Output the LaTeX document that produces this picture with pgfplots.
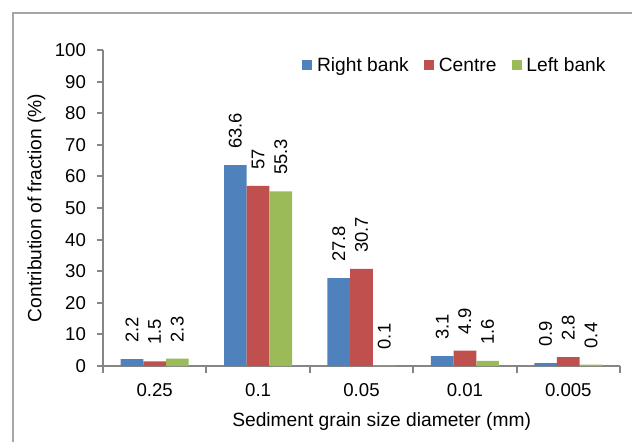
\documentclass[border=0pt]{standalone}
\usepackage{pgfplots}
\pgfplotsset{compat=1.18}
\usepackage{fontspec}
\setmainfont{Liberation Sans}
\definecolor{rbank}{HTML}{4F81BD}
\definecolor{centre}{HTML}{C0504D}
\definecolor{lbank}{HTML}{9BBB59}
\definecolor{axgray}{HTML}{868686}
\definecolor{framegray}{HTML}{A6A6A6}
\pgfplotsset{sqlegend/.style={legend image code/.code={\fill[##1] (0pt,-2.5pt) rectangle (5pt,2.5pt);}}}

\begin{document}
\begin{tikzpicture}
\useasboundingbox (-51.5pt,-37.5pt) rectangle (264.5pt,183pt);
\draw[framegray, line width=1pt] (-45pt,-45pt) -- (-45pt,176.5pt) -- (275pt,176.5pt);
\begin{axis}[
  at={(0pt,0pt)}, anchor=south west,
  scale only axis, width=258.5pt, height=158pt,
  ybar=0pt, bar width=11.35pt,
  xmin=-0.5, xmax=4.5, ymin=0, ymax=100,
  xtick={0,...,4},
  xticklabels={0.25,0.1,0.05,0.01,0.005},
  minor xtick={-0.5,0.5,...,4.5},
  ytick={0,10,...,100},
  axis x line*=bottom, axis y line*=left,
  axis line style={axgray, line width=1pt},
  tick align=outside,
  major tick length=3pt, minor tick length=3.5pt,
  tick style={color=axgray, line width=1pt},
  major x tick style={draw=none},
  /pgf/number format/assume math mode=true,
  tick label style={font=\fontsize{9.3}{11}\selectfont},
  yticklabel style={xshift=-2pt},
  xticklabel style={yshift=-2.4pt},
  ylabel={Contribution of fraction (\%)},
  xlabel={Sediment grain size diameter (mm)},
  every axis y label/.style={at={(axis description cs:-0.1286,0.5)}, rotate=90, anchor=center, font=\fontsize{9.6}{11}\selectfont},
  every axis x label/.style={at={(axis description cs:0.539,-0.19)}, anchor=base, font=\fontsize{9.6}{11}\selectfont},
  legend columns=3,
  legend style={draw=none, fill=none, at={(axis description cs:0.3843,0.9525)}, anchor=west,
    inner sep=0pt, nodes={inner sep=0pt, text depth=0pt}, font=\fontsize{9.6}{11}\selectfont,
    /tikz/every odd column/.style={column sep=2.5pt},
    /tikz/every even column/.style={column sep=7.5pt}},
  clip=false,
  nodes near coords={\pgfmathprintnumber[fixed, precision=1]{\pgfplotspointmeta}},
  every node near coord/.append style={rotate=90, anchor=west, inner xsep=8pt, font=\fontsize{9.2}{11}\selectfont, color=black},
]
\addplot[draw=none, fill=rbank, sqlegend] coordinates {(0,2.2) (1,63.6) (2,27.8) (3,3.1) (4,0.9)};
\addplot[draw=none, fill=centre, sqlegend] coordinates {(0,1.5) (1,57) (2,30.7) (3,4.9) (4,2.8)};
\addplot[draw=none, fill=lbank, sqlegend] coordinates {(0,2.3) (1,55.3) (2,0.1) (3,1.6) (4,0.4)};
\legend{Right bank, Centre, Left bank}
\end{axis}
\end{tikzpicture}
\end{document}
